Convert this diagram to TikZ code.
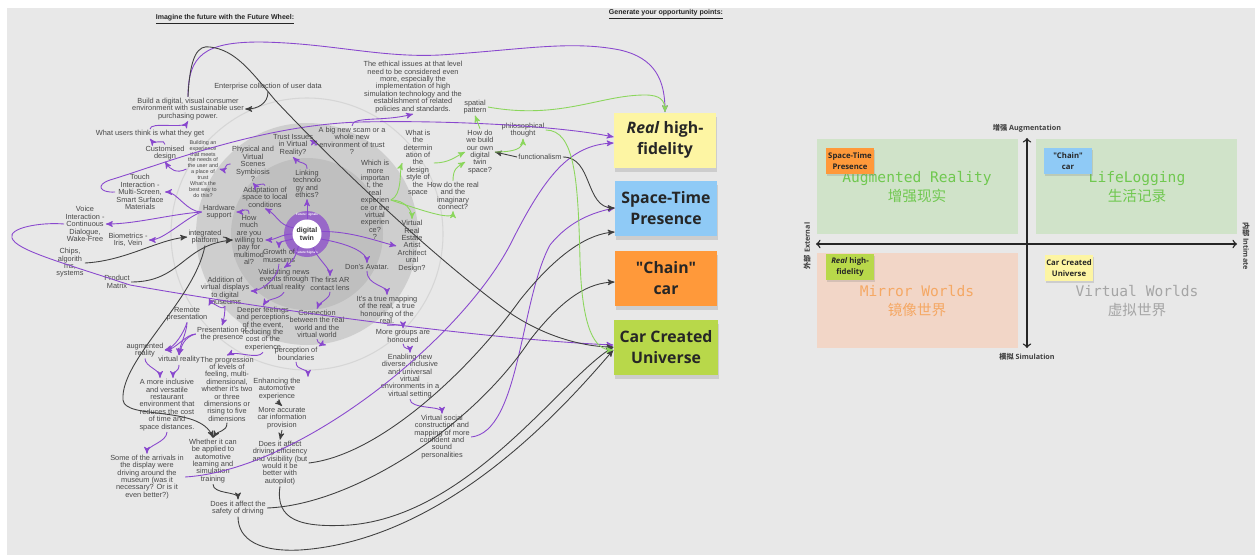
\documentclass[tikz,border=0pt]{standalone}
\usepackage{fontspec}
\setmainfont{Liberation Sans}
\newfontfamily\notefont{Open Sans}
\newfontfamily\quadfont{DejaVu Sans Mono}
\newfontfamily\cjk{Noto Sans CJK SC}
\usepackage{tikz}
\usetikzlibrary{calc,positioning,arrows,shadows}
\definecolor{panel}{RGB}{232,232,232}
\definecolor{ideatext}{RGB}{72,72,72}
\definecolor{linkpurple}{RGB}{137,72,206}
\definecolor{linkgreen}{RGB}{139,214,92}
\definecolor{wheelmid}{RGB}{206,206,206}
\definecolor{wheelin}{RGB}{191,191,191}
\definecolor{wheelline}{RGB}{214,214,214}
\definecolor{wheelring}{RGB}{152,104,200}
\definecolor{noteyellow}{RGB}{253,245,163}
\definecolor{noteblue}{RGB}{143,202,246}
\definecolor{noteorange}{RGB}{255,153,58}
\definecolor{notelime}{RGB}{184,216,74}
\definecolor{quadgreen}{RGB}{208,227,201}
\definecolor{quadpink}{RGB}{242,214,199}
\definecolor{argreen}{RGB}{112,200,80}
\definecolor{mworange}{RGB}{245,168,100}
\definecolor{vwgray}{RGB}{165,165,165}
\tikzset{
  >=stealth',
  idea/.style={align=center, inner sep=0.6pt, text=ideatext,
    font=\fontsize{4.2}{4.2}\selectfont},
  tinyidea/.style={idea, font=\fontsize{3.1}{3.4}\selectfont},
  heading/.style={font=\bfseries\fontsize{4}{4.8}\selectfont, text=black!85},
  twinnode/.style={circle, fill=white, minimum size=5.8mm, inner sep=0pt,
    align=center, text=black!80, font=\bfseries\fontsize{4}{4.4}\selectfont},
  sigtext/.style={text=white, inner sep=0pt, font=\bfseries\fontsize{1.8}{2}\selectfont},
  pline/.style={draw=linkpurple, line width=0.5pt, ->},
  bline/.style={draw=black!75, line width=0.5pt, ->},
  gline/.style={draw=linkgreen, line width=0.5pt, ->},
  sticky/.style={
    rectangle,
    minimum width=20.4mm,
    minimum height=11mm,
    align=center,
    text=black!85,
    font=\notefont\bfseries\fontsize{9}{11.9}\selectfont,
    drop shadow={shadow xshift=0.2mm, shadow yshift=-0.8mm, opacity=0.25}},
  ministicky/.style={
    rectangle,
    minimum width=9.6mm,
    minimum height=5.2mm,
    align=center,
    inner sep=0.5pt,
    text=black!85,
    font=\notefont\bfseries\fontsize{4.4}{6}\selectfont,
    drop shadow={shadow xshift=0.1mm, shadow yshift=-0.4mm, opacity=0.25}},
  quadtext/.style={align=center, font=\quadfont\fontsize{8.3}{10.8}\selectfont},
  axlabel/.style={inner sep=0pt, text=black!75,
    font=\notefont\bfseries\fontsize{4.1}{5}\selectfont},
  axis/.style={draw=black!85, line width=0.8pt, to-to},
}

\begin{document}
\begin{tikzpicture}[x=0.2mm, y=-0.2mm]
  \useasboundingbox (0,0) rectangle (1255,555);
  \fill[white] (0,0) rectangle (1255,555);
  \fill[panel] (7,8) rectangle (1255,555);

  % future wheel rings
  \fill[wheelmid] (307,234) circle (111);
  \fill[wheelin] (307,234) circle (76);
  \draw[wheelline, line width=0.6pt] (307,234) circle (136);
  \fill[wheelring] (307,234) circle (23);
  \node[twinnode] (twin) at (307,234) {digital\\twin};
  \node[sigtext] (sigtop) at (307,215) {Future Signals};
  \node[sigtext] (sigbot) at (307,253) {Future Signals};

  \node[heading] (head1) at (225,19) {\underline{Imagine the future with the Future Wheel:}};
  \node[heading] (head2) at (666,14) {\underline{Generate your opportunity points:}};

  % ideas
  \node[idea] (ent) at (268,87) {Enterprise collection of user data};
  \node[idea] (build) at (188,109) {Build a digital, visual consumer\\environment with sustainable user\\purchasing power.};
  \node[idea] (users) at (150,134) {What users think is what they get};
  \node[idea] (custom) at (165,153) {Customised\\design};
  \node[tinyidea] (buildexp) at (203,169) {Building an\\experience\\that meets\\the needs of\\the user and\\a place of\\trust\\What's the\\best way to\\do this?};
  \node[idea] (touch) at (140,192) {Touch\\Interaction -\\Multi-Screen,\\Smart Surface\\Materials};
  \node[idea] (hardware) at (219,212) {Hardware\\support};
  \node[idea] (voice) at (85,224) {Voice\\Interaction -\\Continuous\\Dialogue,\\Wake-Free};
  \node[idea] (bio) at (128,240) {Biometrics -\\Iris, Vein};
  \node[idea] (integ) at (205,237) {integrated\\platform};
  \node[idea] (chips) at (70,263) {Chips,\\algorith\\ms,\\systems};
  \node[idea] (product) at (117,282) {Product\\Matrix};
  \node[idea] (addition) at (225,291) {Addition of\\virtual displays\\to digital\\museums};
  \node[idea] (remote) at (187,314) {Remote\\presentation};
  \node[idea] (presence) at (222,334) {Presentation of\\the presence};
  \node[idea] (augm) at (145,350) {augmented\\reality};
  \node[idea] (vr) at (179,360) {virtual reality};
  \node[idea] (inclusive) at (167,405) {A more inclusive\\and versatile\\restaurant\\environment that\\reduces the cost\\of time and\\space distances.};
  \node[idea] (progression) at (227,389) {The progression\\of levels of\\feeling, multi-\\dimensional,\\whether it's two\\or three\\dimensions or\\rising to five\\dimensions};
  \node[idea] (whether) at (213,461) {Whether it can\\be applied to\\automotive\\learning and\\simulation\\training};
  \node[idea] (arrivals) at (147,477) {Some of the arrivals in\\the display were\\driving around the\\museum (was it\\necessary? Or is it\\even better?)};
  \node[idea] (safety) at (238,508) {Does it affect the\\safety of driving};
  \node[idea] (enhancing) at (277,389) {Enhancing the\\automotive\\experience};
  \node[idea] (accurate) at (282,418) {More accurate\\car information\\provision};
  \node[idea] (efficiency) at (280,463) {Does it affect\\driving efficiency\\and visibility (but\\would it be\\better with\\autopilot)};
  \node[idea] (deeper) at (263,329) {Deeper feelings\\and perceptions\\of the event,\\reducing the\\cost of the\\experience};
  \node[idea] (boundaries) at (296,354) {perception of\\boundaries};
  \node[idea] (connection) at (317,324) {Connection\\between the real\\world and the\\virtual world};
  \node[idea] (validating) at (284,280) {Validating news\\events through\\virtual reality};
  \node[idea] (firstar) at (330,284) {The first AR\\contact lens};
  \node[idea] (avatar) at (367,267) {Don's Avatar.};
  \node[idea] (mapping) at (387,310) {It's a true mapping\\of the real, a true\\honouring of the\\real.};
  \node[idea] (groups) at (403,336) {More groups are\\honoured};
  \node[idea] (enabling) at (410,376) {Enabling new\\diverse, inclusive\\and universal\\virtual\\environments in a\\virtual setting};
  \node[idea] (social) at (442,437) {Virtual social\\construction and\\mapping of more\\confident and\\sound\\personalities};
  \node[idea] (growth) at (279,256) {Growth of\\museums};
  \node[idea] (howmuch) at (249,240) {How\\much\\are you\\willing to\\pay for\\multimod\\al?};
  \node[idea] (adaptation) at (265,197) {Adaptation of\\space to local\\conditions};
  \node[idea] (physical) at (253,164) {Physical and\\Virtual\\Scenes\\Symbiosis\\?};
  \node[idea] (trust) at (293,145) {Trust Issues\\in Virtual\\Reality?};
  \node[idea] (linking) at (307,184) {Linking\\technolo\\gy and\\ethics?};
  \node[idea] (scam) at (352,141) {A big new scam or a\\whole new\\environment of trust\\?};
  \node[idea] (which) at (375,200) {Which is\\more\\importan\\t, the\\real\\experien\\ce or the\\virtual\\experien\\ce?\\?};
  \node[idea] (determination) at (418,163) {What is\\the\\determin\\ation of\\the\\design\\style of\\the\\space};
  \node[idea] (ethical) at (413,87) {The ethical issues at that level\\need to be considered even\\more, especially the\\implementation of high\\simulation technology and the\\establishment of related\\policies and standards.};
  \node[idea] (spatial) at (475,107) {spatial\\pattern};
  \node[idea] (philo) at (523,130) {philosophical\\thought};
  \node[idea] (howbuild) at (480,152) {How do\\we build\\our own\\digital\\twin\\space?};
  \node[idea] (functional) at (540,157) {functionalism};
  \node[idea] (realimag) at (453,196) {How do the real\\and the\\imaginary\\connect?};
  \node[idea] (estate) at (412,246) {Virtual\\Real\\Estate\\Artist\\Architect\\ural\\Design?};

  % opportunity points
  \node[sticky, fill=noteyellow] (realhf) at (665,140) {\textit{Real} high-\\fidelity};
  \node[sticky, fill=noteblue] (spacetime) at (666,208) {Space-Time\\Presence};
  \node[sticky, fill=noteorange] (chaincar) at (666,278) {"Chain"\\car};
  \node[sticky, fill=notelime] (carcreated) at (666,347) {Car Created\\Universe};

  % purple links
  \draw[pline] (twin.north) -- (linking.south);
  \draw[pline] (twin.155) .. controls +(-15,-2) and +(12,6) .. (adaptation.south);
  \draw[pline] (twin.west) .. controls +(-10,0) and +(10,0) .. (howmuch.east);
  \draw[pline] (twin.200) .. controls +(-15,3) and +(0,-6) .. (growth.north);
  \draw[pline] (twin.235) .. controls +(-3,12) and +(8,-6) .. (validating.north);
  \draw[pline] (twin.-65) .. controls +(3,10) and +(0,-8) .. (firstar.north);
  \draw[pline] (twin.-20) .. controls +(30,5) and +(0,-10) .. (avatar.north);
  \draw[pline] (twin.10) .. controls +(30,0) and +(-20,-5) .. (estate.west);
  \draw[pline] (linking.north) .. controls +(0,-8) and +(8,8) .. (trust.south);
  \draw[pline] (trust.east) .. controls +(8,0) and +(-8,2) .. (scam.west);
  \draw[pline] (scam.north) .. controls +(0,-10) and +(-30,8) .. (ethical.south);
  \draw[pline] (adaptation.north) .. controls +(0,-4) and +(3,4) .. (physical.south);
  \draw[pline] (physical.west) .. controls +(-8,0) and +(8,2) .. (buildexp.east);
  \draw[pline] (buildexp.west) .. controls +(-10,5) and +(5,8) .. (custom.south);
  \draw[pline] (custom.north) .. controls +(0,-6) and +(5,6) .. (users.south);
  \draw[pline] (users.north) .. controls +(0,-8) and +(-5,8) .. (build.south);
  \draw[pline] (build.north) .. controls (188,55) and (205,42) .. (260,42)
    .. controls (330,43) and (380,58) .. (440,55)
    .. controls (520,50) and (570,40) .. (620,50)
    .. controls (655,58) and (665,80) .. (realhf.north);
  \draw[pline] (howmuch.north) .. controls +(0,-8) and +(5,0) .. (hardware.east);
  \draw[pline] (hardware.west) .. controls +(-15,0) and +(12,0) .. (touch.east);
  \draw[pline] (hardware.west) .. controls +(-30,2) and +(30,0) .. (voice.east);
  \draw[pline] (hardware.west) .. controls +(-15,5) and +(15,0) .. (bio.east);
  \draw[pline] (touch.west) .. controls (100,193) and (95,185) .. (110,180)
    .. controls (160,165) and (260,125) .. (360,122)
    .. controls (450,120) and (560,126) .. ($(realhf.west)+(0,-3)$);
  \draw[pline] (voice.west) .. controls (40,222) and (8,228) .. (12,238)
    .. controls (16,250) and (60,262) .. (130,285)
    .. controls (300,315) and (500,340) .. ($(carcreated.west)+(0,-2)$);
  \draw[pline] (validating.south) .. controls +(-5,8) and +(5,-8) .. (deeper.north);
  \draw[pline] (deeper.south) .. controls +(-5,8) and +(10,-5) .. (progression.north);
  \draw[pline] (growth.south) .. controls +(0,15) and +(10,0) .. (addition.east);
  \draw[pline] (addition.south) .. controls +(-3,6) and +(3,-6) .. (remote.north east);
  \draw[pline] (addition.south) .. controls +(0,6) and +(2,-6) .. (presence.north);
  \draw[pline] (remote.south) .. controls +(-3,10) and +(10,-3) .. (augm.east);
  \draw[pline] (remote.south) .. controls +(0,10) and +(0,-8) .. (vr.north);
  \draw[pline] (presence.west) .. controls +(-10,0) and +(10,0) .. (augm.east);
  \draw[pline] (presence.west) .. controls +(-12,3) and +(2,-8) .. (vr.north);
  \draw[pline] (augm.south) .. controls +(0,8) and +(0,-8) .. ($(inclusive.north)+(-7,0)$);
  \draw[pline] (vr.south) .. controls +(0,8) and +(0,-8) .. ($(inclusive.north)+(6,0)$);
  \draw[pline] (inclusive.south) .. controls +(0,10) and +(0,-8) .. (arrivals.north);
  \draw[pline] (firstar.south) .. controls +(0,8) and +(3,-8) .. (connection.north);
  \draw[pline] (connection.south) .. controls +(0,5) and +(5,-3) .. (boundaries.north east);
  \draw[pline] (boundaries.south) .. controls +(0,10) and +(0,-10) .. ($(enhancing.north east)+(6,0)$);
  \draw[pline] (avatar.south) .. controls +(0,15) and +(0,-10) .. (mapping.north);
  \draw[pline] (mapping.south) .. controls +(8,0) and +(0,-4) .. (groups.north);
  \draw[pline] (groups.south) .. controls +(0,6) and +(0,-5) .. (enabling.north);
  \draw[pline] (enabling.south) .. controls +(0,10) and +(0,-8) .. (social.north);
  \draw[pline] (arrivals.east) .. controls (300,470) and (460,340) .. (510,245)
    .. controls (545,175) and (570,145) .. ($(realhf.west)+(0,3)$);
  \draw[pline] (social.east) .. controls (520,432) and (520,300) .. (550,245)
    .. controls (570,220) and (595,212) .. (spacetime.west);

  % black links
  \draw[bline] (ent.south) .. controls +(0,12) and +(12,0) .. (build.east);
  \draw[bline] (build.north) .. controls (190,55) and (198,45) .. (210,47)
    .. controls (235,50) and (250,70) .. (275,100)
    .. controls (350,180) and (450,270) .. (510,313)
    .. controls (550,340) and (590,347) .. (carcreated.west);
  \draw[bline] (chips.east) .. controls +(40,-2) and +(-30,3) .. (integ.west);
  \draw[bline] (product.east) .. controls +(50,0) and +(-50,5) .. (howmuch.west);
  \draw[bline] (integ.east) .. controls +(5,0) and +(-5,0) .. (howmuch.west);
  \draw[bline] (integ.south) .. controls (195,300) and (120,360) .. (123,400)
    .. controls (125,420) and (200,405) .. (whether.north);
  \draw[bline] (progression.south) .. controls +(0,10) and +(5,-8) .. (whether.north);
  \draw[bline] (whether.south) .. controls +(0,10) and +(0,-8) .. (safety.north);
  \draw[bline] (enhancing.south) -- (accurate.north);
  \draw[bline] (accurate.south) -- (efficiency.north);
  \draw[bline] (functional.west) -- (howbuild.east);
  \draw[bline] (functional.east) .. controls +(30,0) and +(-30,0) .. (spacetime.west);
  \draw[bline] (efficiency.east) .. controls (380,455) and (470,370) .. (520,300)
    .. controls (560,250) and (590,234) .. ($(spacetime.west)+(0,24)$);
  \draw[bline] (safety.east) .. controls (350,505) and (470,430) .. (530,340)
    .. controls (565,295) and (590,283) .. ($(chaincar.west)+(0,4)$);
  \draw[bline] (efficiency.south) .. controls (275,520) and (300,528) .. (350,525)
    .. controls (470,515) and (560,380) .. (carcreated.west);
  \draw[bline] (safety.south) .. controls (238,540) and (260,552) .. (300,550)
    .. controls (450,540) and (570,400) .. ($(carcreated.west)+(0,3)$);

  % green links
  \draw[gline] (which.east) .. controls +(12,-5) and +(-3,8) .. (determination.west);
  \draw[gline] (which.east) .. controls +(15,0) and +(0,-8) .. (estate.north);
  \draw[gline] (which.east) .. controls +(30,10) and +(0,10) .. (realimag.south);
  \draw[gline] (determination.east) .. controls +(15,0) and +(-10,5) .. (howbuild.west);
  \draw[gline] (realimag.north) .. controls +(0,-12) and +(-8,5) .. ($(howbuild.west)+(0,10)$);
  \draw[gline] (howbuild.north) -- (spatial.south);
  \draw[gline] (howbuild.east) .. controls +(20,0) and +(0,10) .. (philo.south);
  \draw[gline] (spatial.east) .. controls (560,120) and (600,95) .. (645,95)
    .. controls (660,95) and (665,100) .. (realhf.north);
  \draw[gline] (philo.east) .. controls (575,130) and (578,180) .. (580,260)
    .. controls (582,330) and (595,350) .. ($(carcreated.west)+(0,3)$);

  % quadrant map
  \fill[quadgreen] (817,139) rectangle (1018,234);
  \fill[quadgreen] (1036,139) rectangle (1237,234);
  \fill[quadpink] (817,253) rectangle (1018,348);
  \coordinate (qtop) at (1027,138);
  \coordinate (qbot) at (1027,348);
  \coordinate (qleft) at (816,244);
  \coordinate (qright) at (1237,244);
  \draw[axis] (qtop) -- (qbot);
  \draw[axis] (qleft) -- (qright);
  \node[axlabel] (augl) at (1027,128) {{\cjk 增强} Augmentation};
  \node[axlabel] (siml) at (1027,357) {{\cjk 模拟} Simulation};
  \node[axlabel, rotate=90] (extl) at (807,246) {{\cjk 外部} External};
  \node[axlabel, rotate=-90] (intl) at (1246,246) {{\cjk 内部} Intimate};

  \node[quadtext, text=argreen] (ar) at (917,187) {Augmented Reality\\{\cjk 增强现实}};
  \node[quadtext, text=argreen] (ll) at (1137,187) {LifeLogging\\{\cjk 生活记录}};
  \node[quadtext, text=mworange] (mw) at (917,301) {Mirror Worlds\\{\cjk 镜像世界}};
  \node[quadtext, text=vwgray] (vw) at (1137,301) {Virtual Worlds\\{\cjk 虚拟世界}};

  \node[ministicky, fill=noteorange] (qspace) at (850,161) {Space-Time\\Presence};
  \node[ministicky, fill=noteblue] (qchain) at (1068,161) {"Chain"\\car};
  \node[ministicky, fill=notelime] (qreal) at (850,267) {\textit{Real} high-\\fidelity};
  \node[ministicky, fill=noteyellow] (qcar) at (1069,268) {Car Created\\Universe};
\end{tikzpicture}
\end{document}
